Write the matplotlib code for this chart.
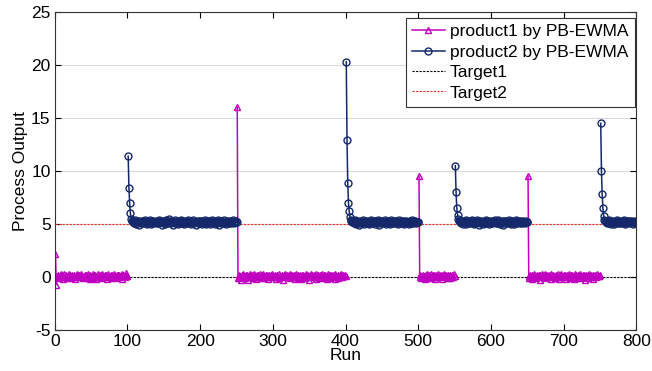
import numpy as np
import matplotlib.pyplot as plt

plt.rcParams['font.family'] = ['Liberation Sans', 'DejaVu Sans']
plt.rcParams['axes.unicode_minus'] = False

# product1 segments (start run, values)
p1_starts = [1, 251, 501, 651]
p1_a = [2.2, -0.7, 0.15, 0.05, 0.22, -0.08, 0.12, 0.3, 0.02, 0.18,
        0.09, -0.15, 0.25, 0.11, 0.04, 0.2, -0.05, 0.14, 0.28, 0.07,
        0.16, -0.12, 0.1, 0.23, 0.01, 0.19, 0.08, -0.2, 0.13, 0.26,
        0.06, 0.17, -0.03, 0.21, 0.1, 0.32, 0.0, 0.15, -0.1, 0.12,
        0.24, 0.05, 0.18, -0.06, 0.09, 0.27, 0.14, -0.18, 0.2, 0.03,
        0.11, 0.29, -0.04, 0.16, 0.08, 0.22, -0.14, 0.13, 0.06, 0.25,
        0.02, 0.19, -0.09, 0.15, 0.31, 0.07, 0.12, -0.02, 0.21, 0.1,
        0.17, -0.16, 0.26, 0.04, 0.14, 0.09, 0.23, -0.07, 0.18, 0.11,
        0.03, 0.28, 0.12, -0.11, 0.2, 0.06, 0.16, 0.24, -0.01, 0.13,
        0.08, 0.3, -0.13, 0.19, 0.1, 0.22, 0.05, 0.35, 0.15, 0.07]
p1_b = [16.0, -0.1, 0.12, 0.2, 0.04, -0.25, 0.16, 0.09, 0.27, 0.02,
        0.14, -0.06, 0.22, 0.1, 0.18, -0.3, 0.07, 0.25, 0.12, 0.03,
        0.2, -0.09, 0.15, 0.29, 0.06, 0.11, -0.17, 0.23, 0.08, 0.17,
        0.01, 0.26, -0.04, 0.13, 0.19, 0.05, 0.31, -0.12, 0.1, 0.21,
        0.07, 0.16, -0.22, 0.24, 0.12, 0.04, 0.18, -0.02, 0.28, 0.09,
        0.14, 0.0, 0.22, -0.15, 0.11, 0.19, 0.06, 0.25, -0.07, 0.15,
        0.03, 0.2, 0.13, -0.28, 0.17, 0.08, 0.26, 0.1, -0.03, 0.21,
        0.05, 0.16, 0.3, -0.1, 0.12, 0.07, 0.23, 0.02, 0.18, -0.19,
        0.14, 0.27, 0.09, -0.05, 0.2, 0.11, 0.04, 0.24, -0.13, 0.16,
        0.06, 0.19, 0.12, -0.08, 0.29, 0.1, 0.15, 0.01, 0.22, -0.24,
        0.13, 0.07, 0.25, 0.17, -0.01, 0.2, 0.09, 0.14, -0.16, 0.28,
        0.05, 0.18, 0.11, -0.06, 0.23, 0.12, 0.03, 0.26, -0.11, 0.16,
        0.08, 0.21, 0.14, -0.2, 0.1, 0.3, 0.06, 0.17, -0.04, 0.24,
        0.12, 0.02, 0.19, 0.09, -0.14, 0.27, 0.15, 0.07, 0.22, -0.09,
        0.11, 0.18, 0.04, 0.25, -0.02, 0.13, 0.2, 0.08, 0.16, 0.1]
p1_c = [9.5, 0.05, 0.18, -0.12, 0.1, 0.24, 0.03, 0.15, -0.2, 0.21,
        0.08, 0.27, -0.05, 0.13, 0.19, 0.02, 0.3, -0.09, 0.11, 0.16,
        0.06, 0.23, -0.15, 0.14, 0.2, 0.04, 0.26, -0.03, 0.12, 0.17,
        0.09, 0.22, -0.18, 0.15, 0.07, 0.28, 0.01, 0.19, -0.07, 0.13,
        0.24, 0.1, -0.11, 0.18, 0.05, 0.21, 0.14, -0.02, 0.25, 0.09]
p1_d = [9.5, -0.05, 0.14, 0.22, 0.06, -0.17, 0.19, 0.1, 0.28, 0.03,
        0.15, -0.08, 0.24, 0.12, 0.07, 0.2, -0.26, 0.16, 0.09, 0.3,
        0.02, 0.18, -0.12, 0.13, 0.25, 0.05, 0.21, -0.03, 0.11, 0.17,
        0.08, 0.27, -0.19, 0.14, 0.04, 0.23, 0.1, -0.07, 0.19, 0.12,
        0.01, 0.26, 0.15, -0.14, 0.2, 0.06, 0.29, 0.09, -0.02, 0.17,
        0.13, 0.22, -0.21, 0.1, 0.18, 0.04, 0.25, 0.11, -0.09, 0.16,
        0.07, 0.21, 0.14, -0.16, 0.28, 0.03, 0.19, 0.12, -0.04, 0.23,
        0.09, 0.15, 0.31, -0.1, 0.13, 0.06, 0.2, 0.17, -0.23, 0.11,
        0.24, 0.08, 0.16, -0.06, 0.27, 0.1, 0.02, 0.19, 0.14, -0.13,
        0.21, 0.05, 0.18, 0.12, -0.01, 0.26, 0.09, 0.15, 0.07, 0.2]
p1_segments = [p1_a, p1_b, p1_c, p1_d]

# product2 segments
p2_starts = [101, 401, 551, 751]
p2_a = [11.4, 8.4, 7.0, 6.0, 5.5, 5.3, 5.15, 5.25, 5.1, 5.35,
        5.2, 5.05, 5.3, 5.18, 5.27, 4.95, 5.22, 5.12, 5.33, 5.2,
        5.08, 5.28, 5.16, 5.4, 5.1, 5.24, 5.02, 5.3, 5.19, 5.14,
        5.36, 5.21, 4.98, 5.26, 5.11, 5.32, 5.17, 5.23, 5.06, 5.29,
        5.2, 5.13, 5.38, 5.09, 5.25, 5.16, 4.92, 5.31, 5.22, 5.12,
        5.27, 5.04, 5.34, 5.18, 5.21, 5.1, 5.45, 5.15, 5.26, 5.07,
        5.3, 5.19, 4.96, 5.24, 5.14, 5.35, 5.2, 5.11, 5.28, 5.03,
        5.22, 5.17, 5.39, 5.09, 5.25, 5.13, 5.32, 4.99, 5.2, 5.27,
        5.15, 5.06, 5.34, 5.21, 5.12, 5.29, 5.18, 5.01, 5.24, 5.37,
        5.1, 5.23, 5.16, 4.94, 5.3, 5.2, 5.08, 5.26, 5.14, 5.33,
        5.19, 5.05, 5.28, 5.22, 5.11, 5.42, 5.17, 5.02, 5.25, 5.13,
        5.31, 5.2, 4.97, 5.27, 5.15, 5.36, 5.09, 5.23, 5.18, 5.04,
        5.29, 5.21, 5.12, 5.34, 5.16, 4.93, 5.26, 5.1, 5.3, 5.19,
        5.07, 5.24, 5.38, 5.14, 5.22, 5.0, 5.28, 5.17, 5.11, 5.32,
        5.2, 5.06, 5.25, 5.15, 5.35, 5.12, 5.23, 5.18, 5.27, 5.21]
p2_b = [20.3, 12.9, 8.9, 7.0, 6.2, 5.7, 5.4, 5.25, 5.18, 5.3,
        5.1, 5.22, 5.35, 5.05, 5.27, 5.16, 5.31, 4.96, 5.2, 5.13,
        5.28, 5.08, 5.24, 5.38, 5.15, 5.02, 5.29, 5.19, 5.11, 5.33,
        5.21, 4.99, 5.26, 5.14, 5.36, 5.09, 5.23, 5.17, 5.3, 5.04,
        5.25, 5.2, 5.12, 5.4, 5.16, 4.95, 5.28, 5.1, 5.32, 5.19,
        5.07, 5.24, 5.15, 5.34, 5.21, 5.03, 5.27, 5.13, 5.29, 5.18,
        4.98, 5.22, 5.37, 5.11, 5.26, 5.16, 5.06, 5.31, 5.2, 5.14,
        5.28, 5.01, 5.24, 5.35, 5.12, 5.19, 5.09, 5.3, 5.23, 4.97,
        5.27, 5.15, 5.33, 5.1, 5.21, 5.17, 5.05, 5.29, 5.25, 5.13,
        5.36, 5.2, 5.08, 5.26, 5.16, 5.31, 5.11, 5.22, 5.18, 5.24]
p2_c = [10.5, 8.0, 6.5, 5.9, 5.5, 5.3, 5.18, 5.26, 5.1, 5.33,
        5.2, 5.05, 5.28, 5.15, 5.37, 4.97, 5.23, 5.12, 5.3, 5.19,
        5.07, 5.25, 5.16, 5.39, 5.11, 5.22, 5.02, 5.29, 5.18, 5.13,
        5.34, 5.2, 4.95, 5.27, 5.09, 5.31, 5.16, 5.24, 5.04, 5.28,
        5.21, 5.14, 5.36, 5.1, 5.26, 5.17, 4.99, 5.32, 5.2, 5.12,
        5.29, 5.06, 5.23, 5.15, 5.35, 5.19, 5.08, 5.27, 5.13, 5.41,
        5.22, 5.03, 5.3, 5.18, 5.11, 5.25, 4.96, 5.33, 5.2, 5.14,
        5.28, 5.09, 5.24, 5.16, 5.37, 5.21, 5.05, 5.26, 5.12, 5.31,
        5.19, 5.0, 5.27, 5.15, 5.34, 5.1, 5.23, 5.17, 5.29, 5.07,
        5.25, 5.2, 5.13, 5.32, 5.16, 5.22, 5.11, 5.28, 5.18, 5.24]
p2_d = [14.5, 10.0, 7.8, 6.5, 5.8, 5.4, 5.25, 5.15, 5.3, 5.08,
        5.22, 5.35, 5.12, 5.27, 5.03, 5.2, 5.32, 5.16, 4.98, 5.26,
        5.11, 5.29, 5.19, 5.37, 5.06, 5.24, 5.14, 5.31, 5.2, 5.09,
        5.28, 5.17, 5.34, 5.01, 5.23, 5.13, 5.3, 5.18, 5.25, 5.1,
        5.33, 5.21, 5.15, 5.27, 5.05, 5.24, 5.19, 5.29, 5.12, 5.22]
p2_segments = [p2_a, p2_b, p2_c, p2_d]

target1 = 0
target2 = 5

fig = plt.figure(figsize=(6.52, 3.71), dpi=100)
ax = fig.add_axes([0.084, 0.11, 0.892, 0.858])

c1 = '#c000c0'
c2 = '#14286a'

for i, (s, seg) in enumerate(zip(p1_starts, p1_segments)):
    x = np.arange(s, s + len(seg))
    ax.plot(x, seg, color=c1, lw=1.1, marker='^', ms=5, mfc='none',
            mec=c1, mew=1.0, label='product1 by PB-EWMA' if i == 0 else None)
for i, (s, seg) in enumerate(zip(p2_starts, p2_segments)):
    x = np.arange(s, s + len(seg))
    ax.plot(x, seg, color=c2, lw=1.1, marker='o', ms=5, mfc='none',
            mec=c2, mew=1.0, label='product2 by PB-EWMA' if i == 0 else None)

ax.axhline(target1, color='black', ls=(0, (2, 1.2)), lw=0.8, label='Target1', zorder=1)
ax.axhline(target2, color='#e03030', ls=(0, (2, 1.2)), lw=0.8, label='Target2', zorder=1)

ax.set_xlim(0, 800)
ax.set_ylim(-5, 25)
ax.set_xticks(range(0, 801, 100))
ax.set_yticks(range(-5, 26, 5))
ax.yaxis.grid(True, color='#d9d9d9', lw=0.8)
ax.set_axisbelow(True)
ax.tick_params(direction='in', top=True, right=True, length=4, labelsize=12.5, pad=3)
for sp in ax.spines.values():
    sp.set_color('#333333')

ax.set_xlabel('Run', fontsize=12.5, labelpad=-1)
ax.set_ylabel('Process Output', fontsize=12.5, labelpad=2)

leg = ax.legend(loc='upper right', bbox_to_anchor=(0.997, 0.98), fontsize=12.5,
                frameon=True, fancybox=False, edgecolor='#333333', framealpha=1,
                handlelength=1.9, labelspacing=0.3, borderpad=0.35, handletextpad=0.3,
                borderaxespad=0)
leg.get_frame().set_linewidth(0.8)

fig.savefig('out.png', dpi=100)
